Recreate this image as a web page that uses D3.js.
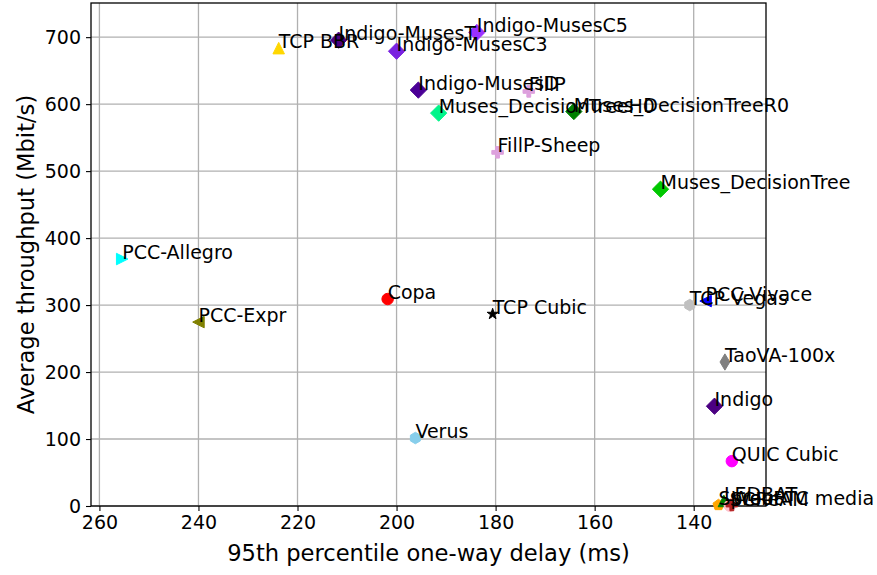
<!DOCTYPE html>
<html>
<head>
<meta charset="utf-8">
<script src="https://cdn.jsdelivr.net/npm/d3@7"></script>
<style>
  body { margin: 0; background: #fff; }
  text { font-family: "DejaVu Sans", sans-serif; fill: #000; }
</style>
</head>
<body>
<div id="chart"></div>
<script>
// schemes, 95th percentile one-way delay (ms) and average throughput (Mbit/s)
var schemes = ["TCP BBR", "Indigo-MusesT", "Indigo-MusesC5", "Indigo-MusesC3", "Indigo-MusesD",
    "FillP", "Muses_DecisionTreeH0", "Muses_DecisionTreeR0", "FillP-Sheep", "Muses_DecisionTree",
    "PCC-Allegro", "PCC-Expr", "Copa", "TCP Cubic", "TCP Vegas", "PCC-Vivace", "TaoVA-100x",
    "Indigo", "QUIC Cubic", "Verus", "Sprout", "LEDBAT", "SCReAM", "WebRTC media"];
var delay = [223.8, 211.7, 183.8, 200.0, 195.6,
    173.3, 191.5, 164.2, 179.6, 146.7,
    255.4, 240.0, 201.8, 180.6, 140.8, 137.6, 133.7,
    135.8, 132.3, 196.2, 135.0, 133.9, 132.7, 132.3];
var tput = [683.6, 695.5, 707, 679, 621,
    619, 586.6, 589, 528, 473,
    368.7, 274.6, 309, 286.6, 300, 306, 215,
    149, 67, 101.5, 1.5, 7.5, 0.5, 1.5];

var xTicks = [260, 240, 220, 200, 180, 160, 140];
var yTicks = [0, 100, 200, 300, 400, 500, 600, 700];

// marker look per scheme
var markerStyle = {
    "TCP BBR": ["gold", "triangle-up"],
    "Indigo-MusesT": ["#4b0082", "diamond"],
    "Indigo-MusesC5": ["#9b30ff", "diamond"],
    "Indigo-MusesC3": ["#7a22e0", "diamond"],
    "Indigo-MusesD": ["#4b0096", "diamond"],
    "FillP": ["plum", "plus"],
    "Muses_DecisionTreeH0": ["#00f58a", "diamond"],
    "Muses_DecisionTreeR0": ["green", "diamond"],
    "FillP-Sheep": ["plum", "plus"],
    "Muses_DecisionTree": ["#00c800", "diamond"],
    "PCC-Allegro": ["cyan", "triangle-right"],
    "PCC-Expr": ["olive", "triangle-left"],
    "Copa": ["red", "circle"],
    "TCP Cubic": ["black", "star"],
    "TCP Vegas": ["silver", "hexagon"],
    "PCC-Vivace": ["blue", "triangle-left"],
    "TaoVA-100x": ["gray", "thin-diamond"],
    "Indigo": ["#4b0082", "diamond"],
    "QUIC Cubic": ["magenta", "circle"],
    "Verus": ["skyblue", "hexagon"],
    "Sprout": ["orange", "pentagon"],
    "LEDBAT": ["green", "triangle-up"],
    "SCReAM": ["pink", "circle"],
    "WebRTC media": ["firebrick", "plus"]
};

var W = 877, H = 575;
var plot = {left: 91, right: 766, top: 3, bottom: 506};
var ms = 11.5; // marker size in px

var svg = d3.select("#chart").append("svg")
    .attr("width", W)
    .attr("height", H);

var x = d3.scaleLinear().domain([261.7, 125.4]).range([plot.left, plot.right]);
var y = d3.scaleLinear().domain([0, 751]).range([plot.bottom, plot.top]);

// grid
svg.append("g").selectAll("line")
    .data(xTicks).enter().append("line")
    .attr("x1", function(d) { return x(d); })
    .attr("x2", function(d) { return x(d); })
    .attr("y1", plot.top).attr("y2", plot.bottom)
    .attr("stroke", "#b0b0b0").attr("stroke-width", 1.3);
svg.append("g").selectAll("line")
    .data(yTicks).enter().append("line")
    .attr("y1", function(d) { return y(d); })
    .attr("y2", function(d) { return y(d); })
    .attr("x1", plot.left).attr("x2", plot.right)
    .attr("stroke", "#b0b0b0").attr("stroke-width", 1.3);

// axes
var xAxis = svg.append("g")
    .attr("transform", "translate(0," + plot.bottom + ")")
    .call(d3.axisBottom(x).tickValues(xTicks).tickSize(5).tickPadding(5));
var yAxis = svg.append("g")
    .attr("transform", "translate(" + plot.left + ",0)")
    .call(d3.axisLeft(y).tickValues(yTicks).tickSize(5).tickPadding(5));
[xAxis, yAxis].forEach(function(g) {
    g.select(".domain").remove();
    g.selectAll("line").attr("stroke", "#000").attr("stroke-width", 1.1);
    g.selectAll("text").style("font-size", "19px").style("font-family", "DejaVu Sans");
});

// frame
svg.append("rect")
    .attr("x", plot.left).attr("y", plot.top)
    .attr("width", plot.right - plot.left)
    .attr("height", plot.bottom - plot.top)
    .attr("fill", "none").attr("stroke", "#000").attr("stroke-width", 1.3);

// marker shapes
function markerPath(shape, s) {
    var r = s / 2, pts = [], i, a;
    if (shape == "circle") {
        return d3.symbol().type(d3.symbolCircle).size(Math.PI * r * r)();
    }
    if (shape == "diamond") {
        return "M0," + (-r * 1.414) + "L" + (r * 1.414) + ",0L0," + (r * 1.414) + "L" + (-r * 1.414) + ",0Z";
    }
    if (shape == "thin-diamond") {
        return "M0," + (-r * 1.414) + "L" + (r * 0.85) + ",0L0," + (r * 1.414) + "L" + (-r * 0.85) + ",0Z";
    }
    if (shape == "triangle-up") pts = [[0, -r], [-r, r], [r, r]];
    if (shape == "triangle-left") pts = [[-r, 0], [r, -r], [r, r]];
    if (shape == "triangle-right") pts = [[r, 0], [-r, -r], [-r, r]];
    if (shape == "hexagon") {
        for (i = 0; i < 6; i++) { a = i * Math.PI / 3 - Math.PI / 2; pts.push([r * Math.cos(a), r * Math.sin(a)]); }
    }
    if (shape == "pentagon") {
        for (i = 0; i < 5; i++) { a = i * 2 * Math.PI / 5 - Math.PI / 2; pts.push([r * Math.cos(a), r * Math.sin(a)]); }
    }
    if (shape == "star") {
        for (i = 0; i < 10; i++) {
            a = i * Math.PI / 5 - Math.PI / 2;
            var rr = i % 2 ? r * 0.38 : r;
            pts.push([rr * Math.cos(a), rr * Math.sin(a)]);
        }
    }
    if (shape == "plus") {
        var t = r / 3;
        pts = [[-t, -r], [t, -r], [t, -t], [r, -t], [r, t], [t, t], [t, r], [-t, r], [-t, t], [-r, t], [-r, -t], [-t, -t]];
    }
    return "M" + pts.map(function(p) { return p[0] + "," + p[1]; }).join("L") + "Z";
}

var idx = d3.range(schemes.length);

svg.append("g").selectAll("path")
    .data(idx).enter().append("path")
    .attr("transform", function(i) { return "translate(" + x(delay[i]) + "," + y(tput[i]) + ")"; })
    .attr("d", function(i) { return markerPath(markerStyle[schemes[i]][1], ms); })
    .attr("fill", function(i) { return markerStyle[schemes[i]][0]; })
    .attr("stroke", function(i) { return markerStyle[schemes[i]][0]; })
    .attr("stroke-width", 1);

// labels, anchored at the point
svg.append("g").selectAll("text")
    .data(idx).enter().append("text")
    .attr("x", function(i) { return x(delay[i]); })
    .attr("y", function(i) { return y(tput[i]); })
    .style("font-size", "19px")
    .text(function(i) { return schemes[i]; });

// axis titles
svg.append("text")
    .attr("x", (plot.left + plot.right) / 2)
    .attr("y", 561)
    .attr("text-anchor", "middle")
    .style("font-size", "22.6px")
    .text("95th percentile one-way delay (ms)");

svg.append("text")
    .attr("transform", "translate(34," + (plot.top + plot.bottom) / 2 + ") rotate(-90)")
    .attr("text-anchor", "middle")
    .style("font-size", "22.6px")
    .text("Average throughput (Mbit/s)");
</script>
</body>
</html>
